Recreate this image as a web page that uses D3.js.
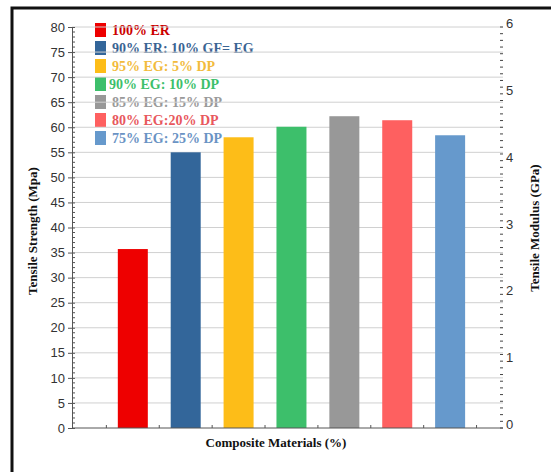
<!DOCTYPE html>
<html>
<head>
<meta charset="utf-8">
<script src="https://cdn.jsdelivr.net/npm/d3@7"></script>
<style>
  body { margin: 0; background: #fff; }
  svg { display: block; }
</style>
</head>
<body>
<div id="chart"></div>
<script>
// data
const categories = ["100% ER", "90% ER: 10% GF= EG", "95% EG: 5% DP", "90% EG: 10% DP",
                    "85% EG: 15% DP", "80% EG:20% DP", "75% EG: 25% DP"];
const strength = [35.7, 55.0, 58.0, 60.1, 62.2, 61.4, 58.4];
const barColors = ["#ee0000", "#33669a", "#fdbd18", "#3dbf6b", "#989898", "#fe6060", "#6699cc"];
const textColors = ["#cc0000", "#3a6493", "#f2bb3c", "#3dbf6b", "#9a9a9a", "#e8585d", "#6a93c4"];
const leftTicks = d3.range(0, 81, 5);
const rightTicks = [0, 1, 2, 3, 4, 5, 6];

const W = 551, H = 472;
const svg = d3.select('#chart').append('svg').attr('width', W).attr('height', H);

const mLeft = 72, mRight = 503, mTop = 27, mBottom = 428;

const y = d3.scaleLinear().domain([0, 80]).range([mBottom, mTop]);
const y2 = d3.scaleLinear().domain([0, 6]).range([mBottom, mTop]);
const x = d3.scaleLinear().domain([-0.15, 8]).range([mLeft, mRight]);

// outer frame
svg.append('rect')
  .attr('x', 12).attr('y', 8)
  .attr('width', 600).attr('height', 500)
  .attr('fill', 'none').attr('stroke', '#111').attr('stroke-width', 3);

// legend (drawn first, the gridlines run across it)
const legend = svg.append('g');
categories.forEach((c, i) => {
  const ly = 30 + i * 18;
  legend.append('rect')
    .attr('x', 95).attr('y', ly - 7)
    .attr('width', 11).attr('height', 14)
    .attr('fill', barColors[i]);
  legend.append('text')
    .attr('x', i == 3 ? 109 : 112).attr('y', ly + 5)
    .text(c)
    .style('font-family', '"Liberation Serif", serif')
    .style('font-weight', 'bold')
    .style('font-size', '14px')
    .style('fill', textColors[i]);
});

// gridlines
svg.append('g').selectAll('line')
  .data(leftTicks.filter(d => d > 0))
  .join('line')
  .attr('x1', mLeft).attr('x2', mRight)
  .attr('y1', d => y(d)).attr('y2', d => y(d))
  .attr('stroke', '#d0d0d0').attr('stroke-width', 1);

// bars
svg.append('g').selectAll('rect')
  .data(strength)
  .join('rect')
  .attr('x', (d, i) => x(i + 1) - 15)
  .attr('width', 30)
  .attr('y', d => y(d))
  .attr('height', d => y(0) - y(d))
  .attr('fill', (d, i) => barColors[i]);

// left axis
const gl = svg.append('g').attr('transform', `translate(${mLeft},0)`);
gl.call(d3.axisLeft(y).tickValues(leftTicks).tickSize(4).tickPadding(3));
gl.append('g').selectAll('line')
  .data(d3.range(0, 81, 1).filter(d => d % 5 != 0))
  .join('line')
  .attr('x1', 0).attr('x2', 3)
  .attr('y1', d => y(d)).attr('y2', d => y(d))
  .attr('stroke', '#555');
gl.selectAll('.tick line').attr('x2', -4).attr('x1', 3).attr('stroke', '#555');
gl.select('.domain').attr('stroke', '#555');
gl.selectAll('text')
  .style('font-family', '"Liberation Sans", Arial, sans-serif')
  .style('font-size', '13px')
  .style('fill', '#333');

// right axis (ticks only)
const gr = svg.append('g').attr('transform', `translate(${mRight},0)`);
gr.append('g').selectAll('line')
  .data(d3.range(0, 61, 1).map(d => d / 10))
  .join('line')
  .attr('x1', -3).attr('x2', 0)
  .attr('y1', d => y2(d)).attr('y2', d => y2(d))
  .attr('stroke', '#444');
gr.append('g').selectAll('text')
  .data(rightTicks)
  .join('text')
  .attr('x', 3).attr('y', d => y2(d) + 1)
  .text(d => d)
  .style('font-family', '"Liberation Sans", Arial, sans-serif')
  .style('font-size', '13px')
  .style('fill', '#333');

// x axis
const gx = svg.append('g').attr('transform', `translate(0,${mBottom})`);
gx.append('line').attr('x1', mLeft).attr('x2', mRight).attr('stroke', '#555');
gx.selectAll('.xt')
  .data(d3.range(0.5, 8, 1))
  .join('line')
  .attr('class', 'xt')
  .attr('x1', d => x(d)).attr('x2', d => x(d))
  .attr('y1', 0).attr('y2', -3)
  .attr('stroke', '#555');

// titles
const titleStyle = sel => sel
  .style('font-family', '"Liberation Serif", serif')
  .style('font-weight', 'bold')
  .style('font-size', '13px')
  .style('fill', '#111')
  .attr('text-anchor', 'middle');

svg.append('text')
  .attr('transform', 'translate(37,231) rotate(-90)')
  .text('Tensile Strength (Mpa)')
  .call(titleStyle);

svg.append('text')
  .attr('transform', 'translate(539,228) rotate(-90)')
  .text('Tensile Modulus (GPa)')
  .call(titleStyle);

svg.append('text')
  .attr('x', 276).attr('y', 447)
  .text('Composite Materials (%)')
  .call(titleStyle);
</script>
</body>
</html>
